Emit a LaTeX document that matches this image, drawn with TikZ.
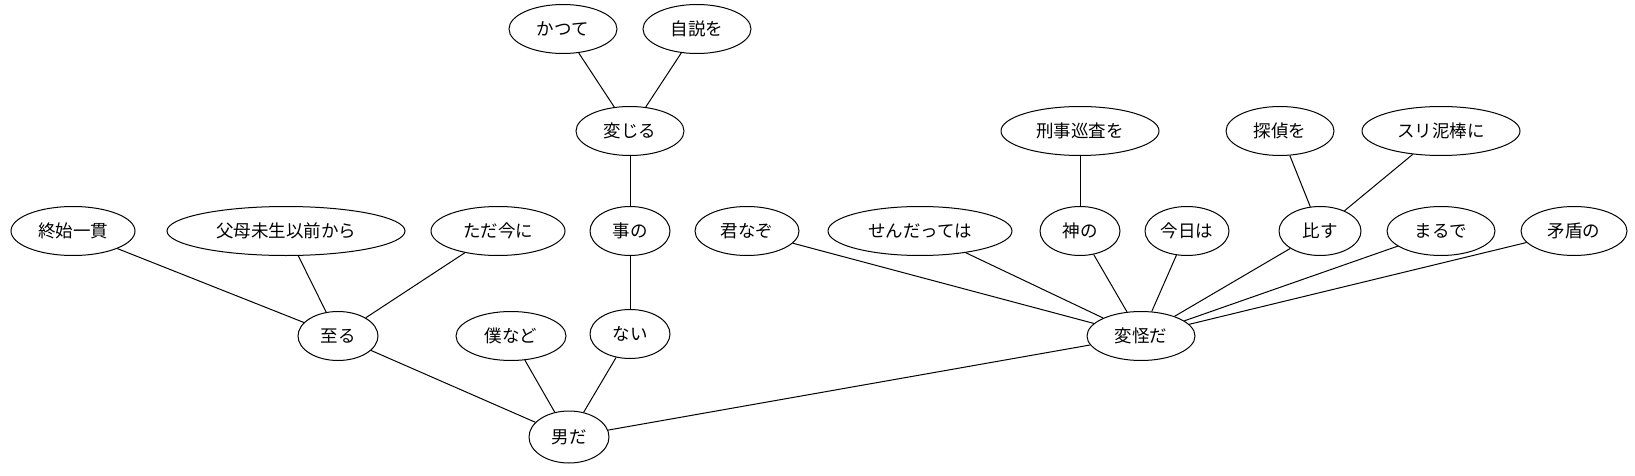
\documentclass[tikz,border=0pt]{standalone}
\usepackage{fontspec}
\newfontfamily\jfont{Noto Sans CJK JP}
\usetikzlibrary{shapes.geometric}
\begin{document}
\begin{tikzpicture}[x=1pt,y=-1pt,
  nd/.style={ellipse,draw,line width=1pt,inner sep=0pt,minimum height=49pt,font=\jfont\fontsize{17.5}{20}\selectfont},
  ed/.style={line width=1pt}]
\useasboundingbox (0,0) rectangle (1635,476);
\node[nd,minimum width=108pt] (katsute) at (563,29) {かつて};
\node[nd,minimum width=108pt] (jisetsu) at (697,29) {自説を};
\node[nd,minimum width=108pt] (henjiru) at (630,131) {変じる};
\node[nd,minimum width=80pt] (koto) at (630,231) {事の};
\node[nd,minimum width=80pt] (nai) at (630,334) {ない};
\node[nd,minimum width=80pt,minimum height=52pt] (otoko) at (569,437) {男だ};
\node[nd,minimum width=80pt] (itaru) at (338,336) {至る};
\node[nd,minimum width=110pt] (boku) at (511,336) {僕など};
\node[nd,minimum width=124pt] (shushi) at (73,231) {終始一貫};
\node[nd,minimum width=238pt] (fubo) at (286,231) {父母未生以前から};
\node[nd,minimum width=134pt] (tada) at (498,231) {ただ今に};
\node[nd,minimum width=104pt] (kimi) at (747,231) {君なぞ};
\node[nd,minimum width=184pt] (sendatte) at (920,231) {せんだっては};
\node[nd,minimum width=80pt] (kami) at (1080,231) {神の};
\node[nd,minimum width=84pt] (kyou) at (1187,231) {今日は};
\node[nd,minimum width=82pt] (hisu) at (1320,231) {比す};
\node[nd,minimum width=108pt] (marude) at (1441,231) {まるで};
\node[nd,minimum width=106pt] (mujun) at (1574,231) {矛盾の};
\node[nd,minimum width=158pt] (keiji) at (1080,131) {刑事巡査を};
\node[nd,minimum width=108pt] (tantei) at (1280,131) {探偵を};
\node[nd,minimum width=158pt] (suri) at (1441,131) {スリ泥棒に};
\node[nd,minimum width=108pt] (henkai) at (1141,336) {変怪だ};
\draw[ed] (katsute) -- (henjiru);
\draw[ed] (jisetsu) -- (henjiru);
\draw[ed] (henjiru) -- (koto);
\draw[ed] (koto) -- (nai);
\draw[ed] (nai) -- (otoko);
\draw[ed] (boku) -- (otoko);
\draw[ed] (itaru) -- (otoko);
\draw[ed] (henkai) -- (otoko);
\draw[ed] (shushi) -- (itaru);
\draw[ed] (fubo) -- (itaru);
\draw[ed] (tada) -- (itaru);
\draw[ed] (kimi) -- (henkai);
\draw[ed] (sendatte) -- (henkai);
\draw[ed] (kami) -- (henkai);
\draw[ed] (kyou) -- (henkai);
\draw[ed] (hisu) -- (henkai);
\draw[ed] (marude) -- (henkai);
\draw[ed] (mujun) -- (henkai);
\draw[ed] (keiji) -- (kami);
\draw[ed] (tantei) -- (hisu);
\draw[ed] (suri) -- (hisu);
\end{tikzpicture}
\end{document}
